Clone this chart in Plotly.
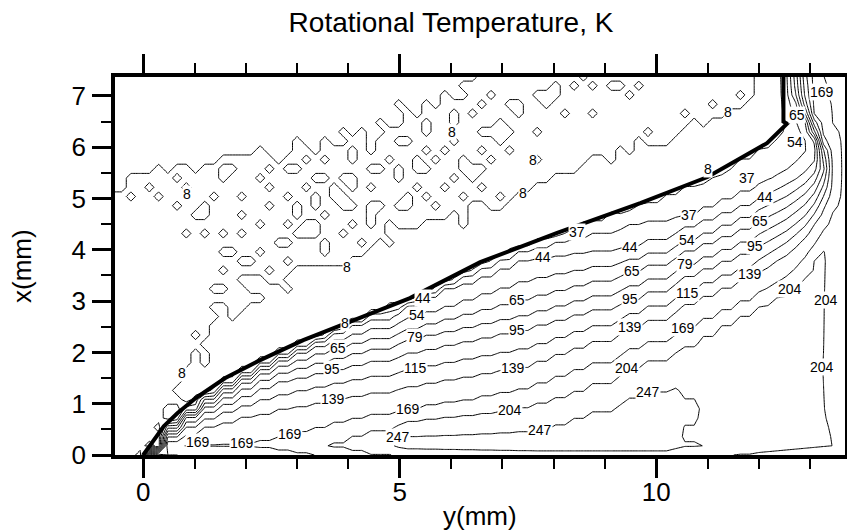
import numpy as np
import plotly.graph_objects as go

# ---------------- data ----------------
levels = [8, 37, 44, 54, 65, 79, 95, 115, 139, 169, 204, 247]

# thick boundary line (level 8)
b_h = [0.0, 0.4, 0.67, 1.05, 1.6, 2.28, 3.12, 4.29, 5.2, 6.57, 8.07, 9.69, 11.0, 12.16, 12.55, 12.48, 12.48]
b_v = [0.0, 0.56, 0.82, 1.13, 1.5, 1.85, 2.24, 2.69, 3.06, 3.76, 4.33, 4.91, 5.42, 6.08, 6.46, 6.5, 7.6]

# fan of contour lines 37..139 : v read at common h columns, then the bend near the lip
fan_h = [0.0, 0.4, 1.0, 1.7, 2.5, 3.7, 5.3, 7.4, 9.5, 10.6, 12.0]
fan_v37 = [0, 0.54, 1.05, 1.49, 1.91, 2.43, 3.07, 4.00, 4.50, 4.68, 5.25]
fan_v44 = [0, 0.52, 1.02, 1.45, 1.87, 2.38, 3.03, 3.82, 4.06, 4.47, 5.00]
fan_v54 = [0, 0.50, 0.97, 1.38, 1.80, 2.25, 2.70, 3.40, 3.82, 4.19, 4.78]
fan_v65 = [0, 0.47, 0.92, 1.30, 1.70, 2.08, 2.50, 3.04, 3.58, 4.00, 4.55]
fan_v79 = [0, 0.43, 0.85, 1.19, 1.56, 1.88, 2.29, 2.73, 3.30, 3.72, 4.30]
fan_v95 = [0, 0.38, 0.76, 1.06, 1.40, 1.67, 2.02, 2.46, 3.04, 3.51, 4.06]
fan_v115 = [0, 0.31, 0.63, 0.89, 1.15, 1.40, 1.70, 2.08, 2.76, 3.22, 3.80]
fan_v139 = [0, 0.23, 0.48, 0.71, 0.87, 1.09, 1.37, 1.73, 2.50, 2.98, 3.56]

bend_h37 = [12.4, 12.75, 12.95, 12.9, 12.7, 12.57, 12.54]
bend_v37 = [5.45, 5.7, 5.95, 6.2, 6.55, 6.95, 7.6]
bend_h44 = [12.5, 12.85, 13.1, 13.15, 13.0, 12.8, 12.65, 12.62]
bend_v44 = [5.25, 5.45, 5.7, 5.95, 6.3, 6.7, 7.1, 7.6]
bend_h54 = [12.52, 12.87, 13.12, 13.19, 13.07, 12.88, 12.71, 12.68]
bend_v54 = [5.03, 5.26, 5.53, 5.83, 6.2, 6.62, 7.05, 7.6]
bend_h65 = [12.53, 12.88, 13.14, 13.23, 13.14, 12.95, 12.77, 12.73]
bend_v65 = [4.82, 5.07, 5.37, 5.7, 6.1, 6.53, 6.99, 7.6]
bend_h79 = [12.55, 12.9, 13.16, 13.28, 13.21, 13.03, 12.84, 12.79]
bend_v79 = [4.6, 4.88, 5.2, 5.58, 6.0, 6.45, 6.95, 7.6]
bend_h95 = [12.57, 12.92, 13.18, 13.32, 13.28, 13.1, 12.9, 12.85]
bend_v95 = [4.38, 4.68, 5.03, 5.45, 5.9, 6.37, 6.9, 7.6]
bend_h115 = [12.58, 12.93, 13.2, 13.36, 13.35, 13.18, 12.96, 12.9]
bend_v115 = [4.17, 4.49, 4.87, 5.33, 5.8, 6.28, 6.85, 7.6]
bend_h139 = [12.6, 12.95, 13.22, 13.4, 13.42, 13.25, 13.02, 12.96]
bend_v139 = [3.95, 4.3, 4.7, 5.2, 5.7, 6.2, 6.8, 7.6]

line169_h = [0.15, 0.5, 1.07, 1.93, 2.5, 2.87, 4.0, 5.17, 6.3, 7.4, 8.5, 9.5, 10.53, 12.0, 12.6, 13.0, 13.3, 13.52, 13.6, 13.55, 13.42, 13.28, 13.25]
line169_v = [0.0, 0.18, 0.25, 0.25, 0.32, 0.41, 0.70, 0.90, 1.08, 1.30, 1.70, 2.07, 2.47, 3.15, 3.5, 3.95, 4.45, 4.95, 5.5, 6.0, 6.5, 7.0, 7.6]
line204_h = [2.8, 3.7, 5.0, 6.0, 7.15, 8.3, 9.43, 10.53, 12.0, 12.61, 13.0, 13.22, 13.34, 13.38, 13.3, 13.25, 13.28, 13.4, 13.45]
line204_v = [0.0, 0.25, 0.65, 0.75, 0.88, 1.2, 1.70, 2.12, 2.92, 3.23, 3.65, 4.05, 4.15, 3.8, 3.0, 1.7, 0.8, 0.3, 0.0]
line247_h = [4.2, 4.6, 4.97, 6.0, 7.0, 7.74, 8.5, 9.3, 9.84, 10.3, 10.55, 10.7, 10.6, 10.3, 10.35, 11.0, 11.3]
line247_v = [0.0, 0.2, 0.35, 0.40, 0.45, 0.49, 0.75, 1.05, 1.23, 1.32, 1.1, 0.95, 0.62, 0.45, 0.25, 0.15, 0.0]

# outer (cold) region: lower edge of the noisy 8-K zone, and its upper edge at the left
edge_w_h = [-0.1, 0.14, 0.36, 0.6, 0.68, 0.85, 1.0, 1.31, 1.5, 2.0, 2.4, 2.6, 2.95, 3.3, 3.97, 4.6, 5.1, 5.9, 6.4, 6.85, 7.4, 7.8, 8.65, 9.2, 9.6, 10.6, 11.4, 11.9, 12.0]
edge_w_v = [0.0, 0.36, 0.75, 1.1, 1.4, 1.75, 2.0, 2.5, 2.95, 3.0, 3.1, 3.3, 3.5, 3.72, 3.7, 4.2, 4.5, 4.6, 4.7, 4.85, 5.1, 5.3, 5.69, 5.75, 5.95, 6.34, 6.69, 6.98, 7.6]
edge_u_h = [-0.7, -0.2, 0.8, 2.0, 2.9, 3.8, 4.9, 5.5, 6.3, 6.6]
edge_u_v = [5.1, 5.5, 5.7, 5.8, 5.95, 6.05, 6.35, 6.7, 7.0, 7.6]

# small closed 8-K contours (noise cells) in the outer region
noise_h = [-0.19, 0.33, 0.20, 1.18, 1.28, 1.37, 0.82, 1.99, 1.89, 2.35, 2.44, 2.74, 2.90, 3.09, 3.26, 3.45, 3.61, 3.39, 3.91, 4.10,
           3.84, 3.52, 3.19, 2.90, 2.25, 1.99, 2.18, 1.53, 1.83, 1.63, 1.34, 2.02, 2.25, 2.41, 2.48, 2.35, 2.22, 1.96, 1.79, 3.55,
           3.65, 4.04, 4.17, 4.36, 4.46, 4.36, 4.49, 4.68, 4.91, 5.07, 5.17, 5.33, 5.33, 5.59, 5.72, 5.85, 5.53, 6.05, 6.28, 6.37,
           6.44, 6.54, 6.05, 5.82, 5.50, 5.59, 6.15, 6.34, 6.54, 6.89, 6.99, 6.57, 6.63, 6.76, 6.92, 7.05, 6.31, 5.14, 4.42, 2.74,
           2.48, 2.93, 2.38, 3.13, 3.35, 3.84, 3.94, 4.68, 5.01, 4.75, 5.40, 7.28, 7.15, 7.61, 7.87, 8.26, 8.71, 8.71, 8.91, 9.27,
           9.69, 9.43, 9.04, 9.23, 9.72, 11.7, 10.86, 10.73, 9.62, 8.06, 8.39, 8.75, 7.6, 2.54, 2.18, 1.76, 1.27, 1.18, 0.72, 2.93,
           2.2, 3.85, 4.55, 5.05, 3.0, 3.5, 4.2, 4.7, 5.2, 5.6, 5.9, 6.2, 4.4, 3.2, 2.6, 1.6, 1.0, 0.5, -0.4,
           2.7, 3.3, 4.0, 4.9, 5.6, 6.1, 6.7, 1.6, 2.8, 3.6, 4.3, 5.3, 0.6, 0.1, 10.2, 11.1, 9.9, 10.5, 8.0,
           1.0, 1.5, 1.7, 2.6, 3.0, 3.3, 3.7, 4.0, 4.3, 4.8, 5.2, 5.7, 6.0, 6.6, 6.8, 7.2, 7.0, 7.4, 7.7, 6.4,
           6.0, 5.6, 5.2, 4.8, 4.4, 4.0, 3.6, 2.2, 1.8, 1.5, 0.6, 0.9, 2.8, 3.0, 1.4, 1.1,
           4.6, 5.4, 6.2, 7.1, 7.9, 8.5, 3.4, 2.0, 1.2, 4.1, 5.0, 6.6]
noise_v = [5.06, 5.06, 5.23, 4.71, 4.90, 5.10, 4.29, 4.35, 5.10, 4.55, 4.84, 5.00, 4.45, 4.64, 4.55, 4.55, 4.71, 4.87, 4.84, 4.81,
           4.32, 4.16, 4.25, 4.09, 4.00, 3.80, 3.73, 3.62, 3.43, 3.27, 3.27, 3.41, 3.44, 3.60, 3.28, 3.21, 3.02, 2.82, 2.82, 5.36,
           5.26, 5.42, 5.42, 5.62, 5.19, 4.51, 4.90, 4.90, 4.90, 4.84, 5.00, 5.55, 5.81, 5.62, 5.81, 6.01, 6.01, 6.10, 5.62, 5.52,
           5.36, 5.23, 5.36, 5.26, 5.06, 5.00, 4.97, 4.90, 4.90, 5.03, 4.90, 5.97, 6.27, 6.30, 6.33, 6.14, 4.55, 4.58, 4.68, 5.62,
           5.62, 5.49, 5.26, 5.23, 5.36, 5.36, 5.10, 5.49, 5.32, 4.51, 4.45, 6.66, 6.79, 6.27, 6.82, 6.66, 6.73, 5.80, 5.80, 5.90,
           6.08, 7.08, 7.28, 7.25, 7.28, 7.02, 6.52, 6.45, 6.05, 7.25, 7.28, 7.18, 5.80, 3.29, 3.19, 2.64, 2.02, 1.86, 1.01, 3.51,
           6.00, 6.25, 6.50, 6.80, 6.10, 6.20, 6.30, 6.50, 6.60, 6.90, 7.10, 7.20, 6.10, 5.85, 5.75, 5.60, 5.55, 5.50, 5.30,
           5.75, 5.90, 6.00, 6.20, 6.45, 6.70, 7.05, 3.95, 3.30, 3.90, 4.10, 4.45, 5.40, 5.30, 6.20, 6.85, 6.35, 6.60, 6.95,
           4.60, 4.40, 4.00, 4.20, 4.90, 5.10, 5.00, 4.50, 4.20, 4.20, 4.80, 4.80, 4.75, 5.50, 5.70, 5.90, 6.50, 6.90, 7.10, 6.60,
           6.40, 6.30, 6.20, 5.80, 5.90, 5.80, 5.70, 5.40, 5.50, 5.35, 4.85, 5.30, 3.80, 4.40, 2.80, 2.40,
           5.60, 5.15, 5.85, 6.30, 7.00, 7.30, 4.40, 4.70, 4.30, 5.15, 5.65, 6.85]

# contour labels
label_text = ["8", "8", "8", "8", "8", "8", "8", "8", "8",
              "37", "37", "37", "44", "44", "44", "44", "54", "54", "54",
              "65", "65", "65", "65", "65", "79", "79", "95", "95", "95", "95",
              "115", "115", "139", "139", "139", "139",
              "169", "169", "169", "169", "169", "169",
              "204", "204", "204", "204", "204", "247", "247", "247"]
label_h = [0.85, 0.75, 3.97, 3.94, 6.02, 7.4, 7.6, 11.0, 11.4,
           8.46, 10.64, 11.77, 5.46, 7.8, 9.49, 12.12, 5.34, 10.6, 12.71,
           3.8, 7.29, 9.53, 12.03, 12.74, 5.3, 10.57, 3.68, 7.29, 9.49, 11.93,
           5.3, 10.6, 3.7, 7.2, 9.49, 11.83,
           1.07, 1.93, 2.87, 5.17, 10.53, 13.23,
           7.15, 9.43, 12.61, 13.3, 13.24, 4.97, 7.74, 9.84]
label_v = [5.08, 1.6, 3.66, 2.58, 6.3, 5.1, 5.75, 5.58, 6.68,
           4.35, 4.68, 5.40, 3.06, 3.87, 4.06, 5.03, 2.73, 4.19, 6.1,
           2.08, 3.02, 3.59, 4.56, 6.62, 2.30, 3.72, 1.67, 2.44, 3.04, 4.07,
           1.70, 3.16, 1.09, 1.70, 2.50, 3.52,
           0.25, 0.23, 0.41, 0.90, 2.48, 7.08,
           0.88, 1.70, 3.24, 3.02, 1.72, 0.35, 0.49, 1.23]

# ---------------- build the field from the read contour lines ----------------
def polyline_fan(v, bh, bv):
    return list(fan_h) + list(bh), list(v) + list(bv)

lines = [
    (b_h, b_v),
    polyline_fan(fan_v37, bend_h37, bend_v37),
    polyline_fan(fan_v44, bend_h44, bend_v44),
    polyline_fan(fan_v54, bend_h54, bend_v54),
    polyline_fan(fan_v65, bend_h65, bend_v65),
    polyline_fan(fan_v79, bend_h79, bend_v79),
    polyline_fan(fan_v95, bend_h95, bend_v95),
    polyline_fan(fan_v115, bend_h115, bend_v115),
    polyline_fan(fan_v139, bend_h139, bend_v139),
    (line169_h, line169_v),
    (line204_h, line204_v),
    (line247_h, line247_v),
]

STEP = 0.18
gh = -0.6 + STEP * np.arange(81)
gv = STEP * np.arange(43)
H, V = np.meshgrid(gh, gv)
# stair-stepped sampling along the flow direction (coarse measurement columns)
Hs = np.where(H < 12.1, -0.6 + 2 * STEP * np.floor((H + 0.6) / (2 * STEP)), H)


def hot_polygon(lh, lv):
    px, py = list(lh), list(lv)
    if py[-1] > 7.0:
        px += [px[-1], 14.5, 14.5]
        py += [7.7, 7.7, -0.3]
    else:
        px += [px[-1]]
        py += [-0.3]
    px += [lh[0]]
    py += [-0.3]
    return np.array(px), np.array(py)


def inside(px, py, qx, qy):
    res = np.zeros(px.shape, dtype=bool)
    n = len(qx)
    j = n - 1
    for i in range(n):
        xi, yi, xj, yj = qx[i], qy[i], qx[j], qy[j]
        cross = ((yi > py) != (yj > py))
        xint = (xj - xi) * (py - yi) / ((yj - yi) if yj != yi else 1e-12) + xi
        res ^= cross & (px < xint)
        j = i
    return res


def dist(px, py, lh, lv):
    d = np.full(px.shape, np.inf)
    for i in range(len(lh) - 1):
        ax, ay, bx, by = lh[i], lv[i], lh[i + 1], lv[i + 1]
        dx, dy = bx - ax, by - ay
        L2 = dx * dx + dy * dy + 1e-12
        t = np.clip(((px - ax) * dx + (py - ay) * dy) / L2, 0, 1)
        d = np.minimum(d, np.hypot(px - ax - t * dx, py - ay - t * dy))
    return d


IN = np.array([inside(Hs, V, *hot_polygon(lh, lv)) for lh, lv in lines])
IN[0] = inside(H, V, *hot_polygon(*lines[0]))
D = np.array([dist(Hs, V, lh, lv) for lh, lv in lines]) + 1e-6
k = IN.sum(axis=0)
nl = len(lines)

Z = np.zeros(H.shape)
hot = (k >= 1) & (k < nl)
ka = np.clip(k - 1, 0, nl - 1)
kb = np.clip(k, 0, nl - 1)
da = np.take_along_axis(D, ka[None], 0)[0]
db = np.take_along_axis(D, kb[None], 0)[0]
Z[hot] = (k - 1)[hot] + (da / (da + db))[hot]
full = k >= nl
Z[full] = (nl - 1) + np.minimum(D[nl - 1] / 0.3, 1.0)[full] * 0.5

# cooler wall row
wall = (gh > 0.3) & (gh < 13.6)
row0 = Z[0].copy()
row0[wall & (k[0] > 0)] = np.minimum(Z[0], Z[1])[wall & (k[0] > 0)] - 0.9
Z[0] = row0

# outer region
cold = k == 0
wx, wy = list(edge_w_h) + [12.0, -1.5, -1.5, -0.1], list(edge_w_v) + [7.7, 7.7, -0.3, -0.3]
ux, uy = list(edge_u_h) + [6.6, -1.5, -1.5], list(edge_u_v) + [7.7, 7.7, 5.1]
in_w = inside(H, V, np.array(wx), np.array(wy))
in_u = inside(H, V, np.array(ux), np.array(uy))
base = np.where(in_w & ~in_u, 0.5, -0.5)
cells = set()
for nh, nv in zip(noise_h, noise_v):
    cells.add((int(round(nv / STEP)), int(round((nh + 0.6) / STEP))))
for (j, i) in cells:
    if 0 <= j < len(gv) and 0 <= i < len(gh) and cold[j, i]:
        base[j, i] = -base[j, i]
Z[cold] = base[cold]

# ---------------- figure ----------------
# the page body adds an 8 px offset, so the figure frame is placed 8 px up/left
FONT = "Liberation Sans, Arial, Helvetica, sans-serif"
ML, MR, MT, MB = 107, 18, 69, 84
PW, PH = 855 - ML - MR, 531 - MT - MB

fig = go.Figure()
fig.add_trace(go.Contour(
    x=gh, y=gv, z=Z,
    contours=dict(start=0, end=len(levels) - 1, size=1, coloring="none", showlabels=False),
    line=dict(color="black", width=1, smoothing=0),
    showscale=False, hoverinfo="skip",
))
fig.add_trace(go.Scatter(x=b_h, y=b_v, mode="lines", line=dict(color="black", width=4),
                         hoverinfo="skip", showlegend=False))

for t, lh, lv in zip(label_text, label_h, label_v):
    fig.add_annotation(x=lh, y=lv, xref="x", yref="y", text=t, showarrow=False,
                       font=dict(size=14, family=FONT, color="black"),
                       bgcolor="white", borderpad=0)

fig.add_annotation(x=(14 - ML) / PW, y=0.5, xref="paper", yref="paper", text="x(mm)",
                   textangle=-90, showarrow=False, xanchor="center", yanchor="middle",
                   font=dict(size=26, family=FONT, color="black"))
fig.add_annotation(x=0.5, y=(MT + PH - 508) / PH, xref="paper", yref="paper", text="y(mm)",
                   showarrow=False, xanchor="center", yanchor="middle",
                   font=dict(size=26, family=FONT, color="black"))

axis_common = dict(showline=True, linewidth=3.5, linecolor="black", mirror="allticks",
                   ticks="outside", tickwidth=3, tickcolor="black", ticklen=19,
                   showgrid=False, zeroline=False, automargin=False,
                   tickfont=dict(size=26, family=FONT, color="black"))
fig.update_xaxes(range=[-0.55, 13.68], tick0=0, dtick=5, ticklabelstandoff=-8,
                 minor=dict(dtick=1, ticklen=10, tickwidth=1.5, ticks="outside", tickcolor="black"),
                 **axis_common)
fig.update_yaxes(range=[0, 7.37], tick0=0, dtick=1, ticklabelstandoff=1,
                 minor=dict(dtick=0.5, ticklen=10, tickwidth=1.5, ticks="outside", tickcolor="black"),
                 **axis_common)
fig.update_layout(
    width=855, height=531,
    margin=dict(l=ML, r=MR, t=MT, b=MB, autoexpand=False),
    plot_bgcolor="white", paper_bgcolor="white",
    showlegend=False,
    title=dict(text="Rotational Temperature, K", x=443 / 855, xref="container", xanchor="center",
               y=1 - 14 / 531, yref="container", yanchor="middle", automargin=False,
               font=dict(size=28, family=FONT, color="black")),
)
fig.write_html("out.html")
